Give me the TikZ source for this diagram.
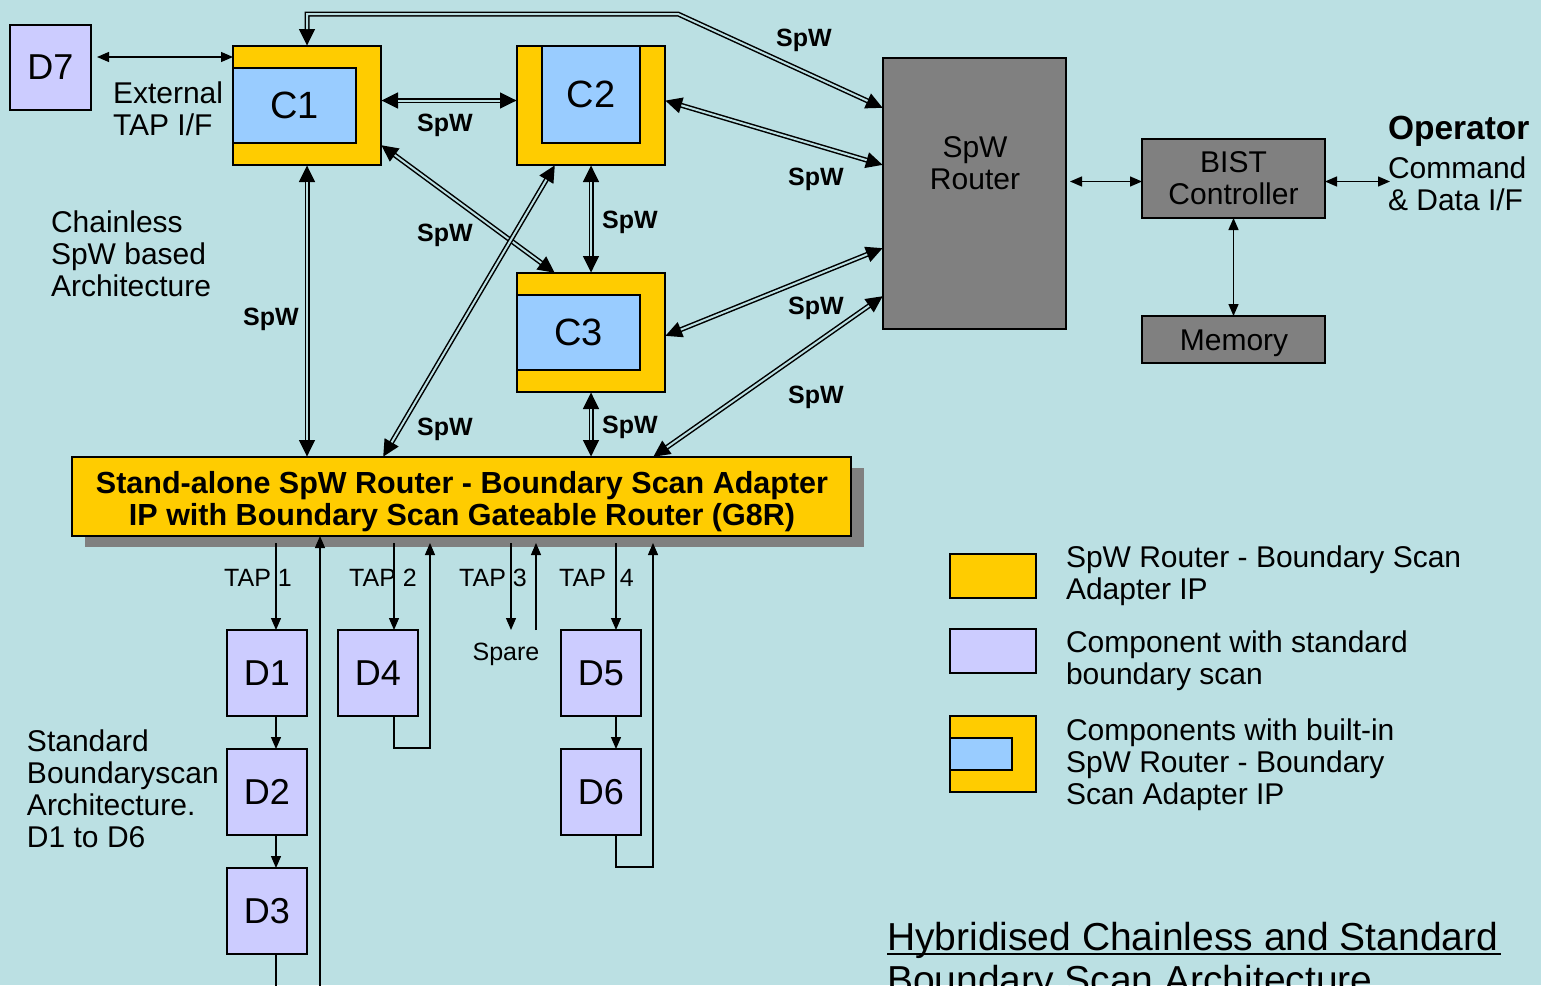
\documentclass[tikz,border=0pt]{standalone}
\usepackage{fontspec}
\setmainfont{Liberation Sans}
\usetikzlibrary{arrows.meta,calc,shadows}
\definecolor{bg}{RGB}{187,224,227}
\definecolor{ylw}{RGB}{255,204,0}
\definecolor{lblue}{RGB}{153,204,255}
\definecolor{lav}{RGB}{204,204,255}
\definecolor{gry}{RGB}{128,128,128}
\tikzset{
  box/.style={draw=black, line width=1.2pt, inner sep=0pt, outer sep=0pt},
  dbox/.style={box, fill=lav, minimum width=80pt, minimum height=86pt, font=\fontsize{36}{40}\selectfont},
  cout/.style={box, fill=ylw, minimum width=148pt, minimum height=119pt},
  cin/.style={box, fill=lblue, font=\fontsize{38}{42}\selectfont},
  gbox/.style={box, fill=gry, align=center, font=\fontsize{30}{32}\selectfont},
  lbl/.style={inner sep=0pt, outer sep=0pt, anchor=base west, align=left, font=\fontsize{30}{32}\selectfont},
  spwl/.style={inner sep=0pt, anchor=base, font=\bfseries\fontsize{25}{28}\selectfont},
  taplbl/.style={inner sep=0pt, anchor=base west, font=\fontsize{25}{28}\selectfont},
  sline/.style={line width=1.3pt},
  sarr/.style={line width=1.3pt, {Triangle[length=12pt,width=10pt]}-{Triangle[length=12pt,width=10pt]}},
  arr/.style={line width=1.3pt, -{Triangle[length=12pt,width=10pt]}},
  dout/.style={line width=5pt, line join=miter, {Triangle[length=17pt,width=15pt]}-{Triangle[length=17pt,width=15pt]}},
  din/.style={line width=2pt, line join=miter, draw=bg, shorten <=17pt, shorten >=17pt},
}
\newcommand\spwlink[1]{\draw[dout] #1; \draw[din] #1;}
\begin{document}
\begin{tikzpicture}[x=1pt, y=-1pt]
\useasboundingbox[fill=bg] (0,0) rectangle (1541,985);

% chainless components
\node[dbox, minimum width=81pt, minimum height=85pt] (d7) at (50.5,67.5) {D7};
\node[cout] (c1) at (307,105.5) {};
\node[cin, minimum width=123pt, minimum height=75pt] (c1i) at (294.5,105.5) {C1};
\node[cout] (c2) at (591,105.5) {};
\node[cin, minimum width=98pt, minimum height=97pt] (c2i) at (591,94.5) {C2};
\node[cout] (c3) at (591,332.5) {};
\node[cin, minimum width=123pt, minimum height=75pt] (c3i) at (578.5,332.5) {C3};

% router, BIST, memory
\node[gbox, minimum width=183pt, minimum height=271pt] (router) at (974.5,193.5) {};
\node[inner sep=0pt, anchor=base, align=center, font=\fontsize{30}{32}\selectfont] (routertxt) at (975,189) {SpW\\Router};
\node[gbox, minimum width=183pt, minimum height=79pt] (bist) at (1233.5,178.5) {BIST\\Controller};
\node[gbox, minimum width=183pt, minimum height=47pt] (mem) at (1233.5,339.5) {};
\node[inner sep=0pt, anchor=base, font=\fontsize{30}{32}\selectfont] (memtxt) at (1234,350) {Memory};

% G8R
\node[box, fill=ylw, minimum width=779pt, minimum height=79pt,
      general shadow={fill=gry, shadow xshift=13pt, shadow yshift=-11pt}] (g8r) at (461.5,496.5) {};
\node[inner sep=0pt, anchor=base, align=center, font=\bfseries\fontsize{30.5}{32}\selectfont] (g8rtxt) at (462,525)
  {Stand-alone SpW Router - Boundary Scan Adapter\\IP with Boundary Scan Gateable Router (G8R)};

% standard boundary scan devices
\node[dbox] (d1) at (267,673) {D1};
\node[dbox] (d2) at (267,792) {D2};
\node[dbox] (d3) at (267,911) {D3};
\node[dbox] (d4) at (378,673) {D4};
\node[dbox] (d5) at (601,673) {D5};
\node[dbox] (d6) at (601,792) {D6};

% SpW double links
\coordinate (bend) at (678,14);
\spwlink{(c1.north) |- (bend) -- ($(router.north west)+(0,50)$)}
\spwlink{($(c1.east)+(0,-5)$) -- ($(c2.west)+(0,-5)$)}
\spwlink{($(c2.east)+(0,-5)$) -- ($(router.west)+(0,-28.5)$)}
\spwlink{($(c1.south east)+(0,-20)$) -- ($(c3.north west)+(38,0)$)}
\spwlink{(c2.south) -- (c3.north)}
\spwlink{($(c2.south west)+(38,0)$) -- ($(g8r.north west)+(311,0)$)}
\spwlink{(c1.south) -- (c1.south |- g8r.north)}
\spwlink{($(c3.east)+(0,3.5)$) -- ($(router.west)+(0,54.5)$)}
\spwlink{(c3.south) -- (c3.south |- g8r.north)}
\spwlink{($(router.south west)+(0,-33)$) -- ($(g8r.north west)+(581,0)$)}

% SpW labels
\node[spwl] at (804,46) {SpW};
\node[spwl] at (445,131) {SpW};
\node[spwl] at (816,185) {SpW};
\node[spwl] at (630,228) {SpW};
\node[spwl] at (445,241) {SpW};
\node[spwl] at (271,325) {SpW};
\node[spwl] at (816,314) {SpW};
\node[spwl] at (816,403) {SpW};
\node[spwl] at (445,435) {SpW};
\node[spwl] at (630,433) {SpW};

% single links
\draw[sarr] ($(d7.east)+(6,-10.5)$) -- ($(c1.west)+(0,-48.5)$);
\draw[sarr] ($(router.east)+(4,-12)$) -- ($(bist.west)+(0,3)$);
\coordinate (opif) at (1390,181.5);
\draw[sarr] ($(bist.east)+(0,3)$) -- (opif);
\draw[sarr] (bist.south) -- (mem.north);

% TAP chains
\coordinate (tap1) at (276,543);
\coordinate (ret1) at (320,990);
\coordinate (out1) at (276,990);
\draw[arr] (tap1) -- (tap1 |- d1.north);
\draw[arr] (tap1 |- d1.south) -- (tap1 |- d2.north);
\draw[arr] (tap1 |- d2.south) -- (tap1 |- d3.north);
\draw[sline] (tap1 |- d3.south) -- (out1);
\draw[arr] (ret1) -- (ret1 |- g8r.south);

\coordinate (tap2) at (394,543);
\coordinate (ret2) at (430,543);
\draw[arr] (tap2) -- (tap2 |- d4.north);
\draw[arr] (tap2 |- d4.south) -- ++(0,32) -| (ret2);

\coordinate (tap3) at (511,543);
\coordinate (sp1) at (511,630);
\coordinate (sp2) at (536,630);
\coordinate (ret3) at (536,543);
\draw[arr] (tap3) -- (sp1);
\draw[arr] (sp2) -- (ret3);

\coordinate (tap4) at (616,543);
\coordinate (ret4) at (653,543);
\draw[arr] (tap4) -- (tap4 |- d5.north);
\draw[arr] (tap4 |- d5.south) -- (tap4 |- d6.north);
\draw[arr] (tap4 |- d6.south) -- ++(0,32) -| (ret4);

\node[taplbl] at (224,586) {TAP 1};
\node[taplbl] at (349,586) {TAP 2};
\node[taplbl] at (459,586) {TAP 3};
\node[taplbl] at (559,586) {TAP\hspace{7pt} 4};
\node[taplbl, anchor=base] at (506,660) {Spare};

% text labels
\node[lbl] at (113,135) {External\\TAP I/F};
\node[lbl] at (51,296) {Chainless\\SpW based\\Architecture};
\node[lbl] at (27,847) {Standard\\Boundaryscan\\Architecture.\\D1 to D6};
\node[lbl, font=\bfseries\fontsize{33.5}{36}\selectfont] at (1388,139) {Operator};
\node[lbl] at (1388,210) {Command\\\& Data I/F};

% legend
\node[box, fill=ylw, minimum width=86pt, minimum height=44pt] (lg1) at (993,576) {};
\node[box, fill=lav, minimum width=86pt, minimum height=44pt] (lg2) at (993,651) {};
\node[box, fill=ylw, minimum width=86pt, minimum height=76pt] (lg3) at (993,754) {};
\node[box, fill=lblue, minimum width=62pt, minimum height=32pt] (lg3i) at (981,754) {};
\node[lbl] at (1066,599) {SpW Router - Boundary Scan\\Adapter IP};
\node[lbl] at (1066,684) {Component with standard\\boundary scan};
\node[lbl] at (1066,804) {Components with built-in\\SpW Router - Boundary\\Scan Adapter IP};

% title
\node[lbl, font=\fontsize{39}{43}\selectfont] (title) at (887,993) {Hybridised Chainless and Standard\\Boundary Scan Architecture};
\draw[line width=2pt] ($(title.base west)+(0,-39.5)$) -- ++(614,0);
\end{tikzpicture}
\end{document}
